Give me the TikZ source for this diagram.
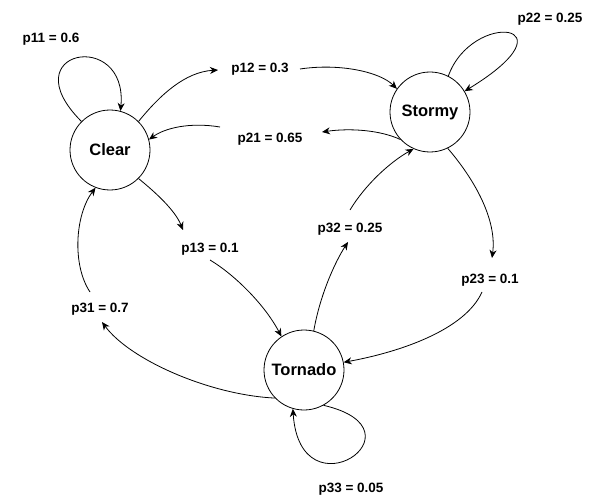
\documentclass[tikz,border=0pt]{standalone}
\usepackage{fontspec}
\setmainfont{Liberation Sans}
\usetikzlibrary{arrows.meta}
\begin{document}
\begin{tikzpicture}[x=1pt,y=-1pt,
  state/.style={circle,draw,line width=0.8pt,minimum size=80pt,inner sep=0pt,
    font=\fontsize{16.5}{19}\selectfont\bfseries},
  plabel/.style={inner sep=0pt,font=\fontsize{13.5}{16}\selectfont\bfseries},
  edge/.style={line width=0.8pt,-{Stealth[length=8pt,width=7pt,inset=2.5pt]}},
  seg/.style={line width=0.8pt}]
\useasboundingbox (0,0) rectangle (600,500);
\fill[white] (0,0) rectangle (600,500);
% states
\node[state] (clear) at (110,150) {Clear};
\node[state] (stormy) at (430,112) {Stormy};
\node[state] (tornado) at (304,370) {Tornado};
% labels
\node[plabel] (l11) at (51,39) {p11 = 0.6};
\node[plabel] (l12) at (260,69) {p12 = 0.3};
\node[plabel] (l21) at (270,139) {p21 = 0.65};
\node[plabel] (l22) at (550,19) {p22 = 0.25};
\node[plabel] (l13) at (210,249) {p13 = 0.1};
\node[plabel] (l32) at (350,229) {p32 = 0.25};
\node[plabel] (l23) at (490,280) {p23 = 0.1};
\node[plabel] (l31) at (100,309) {p31 = 0.7};
\node[plabel] (l33) at (351,489) {p33 = 0.05};
% self loops
\draw[edge] (clear.135) .. controls (10,50) and (128,28) .. (clear.75);
\draw[edge] (stormy.63) .. controls (472,10) and (578,22) .. (stormy.31);
\draw[edge] (tornado.299) .. controls (430,430) and (300,518) .. (tornado.254);
% Clear -> Stormy
\draw[edge] (clear.45) .. controls (160,95) and (185,72) .. ([shift={(-42,1)}]l12.center);
\draw[edge] ([shift={(40,0)}]l12.center) .. controls (340,63) and (380,72) .. (stormy.145);
% Stormy -> Clear
\draw[edge] (stormy.223) .. controls (380,130) and (350,128) .. ([shift={(52,-7)}]l21.center);
\draw[edge] ([shift={(-50,-12)}]l21.center) .. controls (190,122) and (165,128) .. (clear.15);
% Stormy -> Tornado
\draw[edge] (stormy.296) .. controls (475,180) and (497,220) .. ([shift={(2,-22)}]l23.center);
\draw[edge] ([shift={(-8,12)}]l23.center) .. controls (465,330) and (400,352) .. (tornado.11);
% Tornado -> Stormy
\draw[edge] (tornado.76) .. controls (320,295) and (335,262) .. ([shift={(-2,13)}]l32.center);
\draw[edge] ([shift={(0,-19)}]l32.center) .. controls (365,185) and (390,162) .. (stormy.246);
% Clear -> Tornado
\draw[edge] (clear.-45) .. controls (155,192) and (175,210) .. ([shift={(-27,-19)}]l13.center);
\draw[edge] ([shift={(0,11)}]l13.center) .. controls (235,275) and (265,305) .. (tornado.124);
% Tornado -> Clear
\draw[edge] (tornado.224) .. controls (210,395) and (130,360) .. ([shift={(2,13)}]l31.center);
\draw[edge] ([shift={(-10,-17)}]l31.center) .. controls (72,265) and (75,215) .. (clear.249);
\end{tikzpicture}
\end{document}
